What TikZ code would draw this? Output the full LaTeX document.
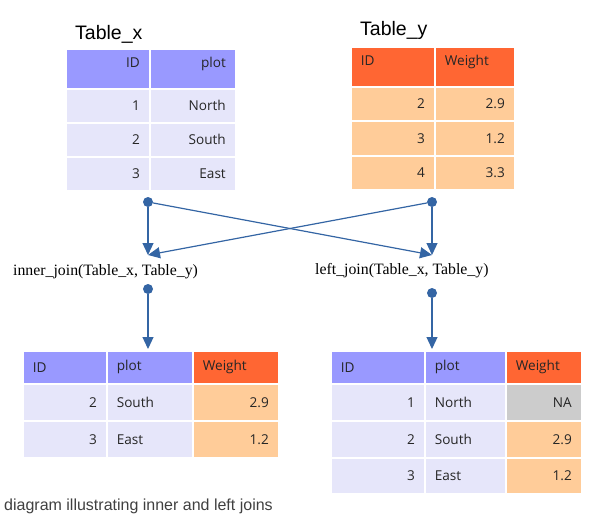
\documentclass[tikz,border=0pt]{standalone}
\usepackage{fontspec}
\setmainfont{Liberation Serif}
\newfontfamily\cellfont{Open Sans}
\newfontfamily\arialfont{Liberation Sans}
\usetikzlibrary{arrows.meta}
\definecolor{hdrx}{HTML}{9999FF}
\definecolor{bodyx}{HTML}{E6E6FA}
\definecolor{hdry}{HTML}{FF6633}
\definecolor{bodyy}{HTML}{FFCC99}
\definecolor{nacol}{HTML}{CCCCCC}
\definecolor{arrcol}{HTML}{3465A4}
\newcommand\tcell[8]{%
  \pgfmathsetmacro\tcw{#4-20}%
  \node[cell, fill=#6, minimum width=#4pt, minimum height=#5pt, text width=\tcw pt, #7] (#1) at (#2,#3) {#8};}
\begin{document}
\begin{tikzpicture}[x=1pt,y=-1pt,
  cell/.style={draw=white, line width=1.6pt, inner xsep=10pt, inner ysep=0pt, anchor=north west,
    font=\cellfont\fontsize{13.6}{16}\selectfont, text=black!85},
  hdr/.style={text height=10pt, text depth=12pt},
  ttl/.style={anchor=base west, font=\arialfont\fontsize{19.5}{22}\selectfont, inner sep=0pt},
  joinlbl/.style={anchor=base west, font=\fontsize{15.8}{18}\selectfont, inner sep=0pt},
  dot/.style={circle, fill=arrcol, inner sep=0pt, minimum size=10pt},
  arr/.style={draw=arrcol, line width=1.2pt, -{Triangle[length=12pt,width=11pt]}},
  ]
\useasboundingbox (0,0) rectangle (599,515);

% Table_x
\node[ttl] (tx) at (75,39) {Table\_x};
\tcell{x11}{65}{48}{84}{40}{hdrx}{align=right,hdr}{ID}
\tcell{x12}{149}{48}{86}{40}{hdrx}{align=right,hdr}{plot}
\tcell{x21}{65}{88}{84}{34}{bodyx}{align=right}{1}
\tcell{x22}{149}{88}{86}{34}{bodyx}{align=right}{North}
\tcell{x31}{65}{122}{84}{34}{bodyx}{align=right}{2}
\tcell{x32}{149}{122}{86}{34}{bodyx}{align=right}{South}
\tcell{x41}{65}{156}{84}{34}{bodyx}{align=right}{3}
\tcell{x42}{149}{156}{86}{34}{bodyx}{align=right}{East}

% Table_y
\node[ttl] (ty) at (360,35) {Table\_y};
\tcell{y11}{350}{46}{84}{40}{hdry}{align=left,hdr}{ID}
\tcell{y12}{434}{46}{80}{40}{hdry}{align=left,hdr}{Weight}
\tcell{y21}{350}{86}{84}{34}{bodyy}{align=right}{2}
\tcell{y22}{434}{86}{80}{34}{bodyy}{align=right}{2.9}
\tcell{y31}{350}{120}{84}{35}{bodyy}{align=right}{3}
\tcell{y32}{434}{120}{80}{35}{bodyy}{align=right}{1.2}
\tcell{y41}{350}{155}{84}{34}{bodyy}{align=right}{4}
\tcell{y42}{434}{155}{80}{34}{bodyy}{align=right}{3.3}

% connectors
\node[dot] (d1) at (148,202) {};
\node[dot] (d2) at (432,202) {};
\coordinate (t1) at (148,255);
\coordinate (t2) at (432,255);
\draw[arr] (d1) -- (t1);
\draw[arr] (d2) -- (t2);
\draw[arr] (d1) -- (t2);
\draw[arr] (d2) -- (t1);

\node[joinlbl] (j1) at (13,275) {inner\_join(Table\_x, Table\_y)};
\node[joinlbl] (j2) at (315,274) {left\_join(Table\_x, Table\_y)};

\node[dot] (d3) at (148,289) {};
\node[dot] (d4) at (432,293) {};
\coordinate (t3) at (148,349);
\coordinate (t4) at (432,349);
\draw[arr] (d3) -- (t3);
\draw[arr] (d4) -- (t4);

% inner join result
\tcell{a11}{22}{350}{84}{33}{hdrx}{align=left}{ID}
\tcell{a12}{106}{350}{86}{33}{hdrx}{align=left}{plot}
\tcell{a13}{192}{350}{86}{33}{hdry}{align=left}{Weight}
\tcell{a21}{22}{383}{84}{37}{bodyx}{align=right}{2}
\tcell{a22}{106}{383}{86}{37}{bodyx}{align=left}{South}
\tcell{a23}{192}{383}{86}{37}{bodyy}{align=right}{2.9}
\tcell{a31}{22}{420}{84}{37}{bodyx}{align=right}{3}
\tcell{a32}{106}{420}{86}{37}{bodyx}{align=left}{East}
\tcell{a33}{192}{420}{86}{37}{bodyy}{align=right}{1.2}

% left join result
\tcell{b11}{330}{350}{94}{33}{hdrx}{align=left}{ID}
\tcell{b12}{424}{350}{81}{33}{hdrx}{align=left}{plot}
\tcell{b13}{505}{350}{76}{33}{hdry}{align=left}{Weight}
\tcell{b21}{330}{383}{94}{37}{bodyx}{align=right}{1}
\tcell{b22}{424}{383}{81}{37}{bodyx}{align=left}{North}
\tcell{b23}{505}{383}{76}{37}{nacol}{align=right}{NA}
\tcell{b31}{330}{420}{94}{37}{bodyx}{align=right}{2}
\tcell{b32}{424}{420}{81}{37}{bodyx}{align=left}{South}
\tcell{b33}{505}{420}{76}{37}{bodyy}{align=right}{2.9}
\tcell{b41}{330}{457}{94}{36}{bodyx}{align=right}{3}
\tcell{b42}{424}{457}{81}{36}{bodyx}{align=left}{East}
\tcell{b43}{505}{457}{76}{36}{bodyy}{align=right}{1.2}

\node[anchor=base west, inner sep=0pt, font=\arialfont\fontsize{16}{18}\selectfont, text=black!75] (cap) at (4,510) {diagram illustrating inner and left joins};
\end{tikzpicture}
\end{document}
